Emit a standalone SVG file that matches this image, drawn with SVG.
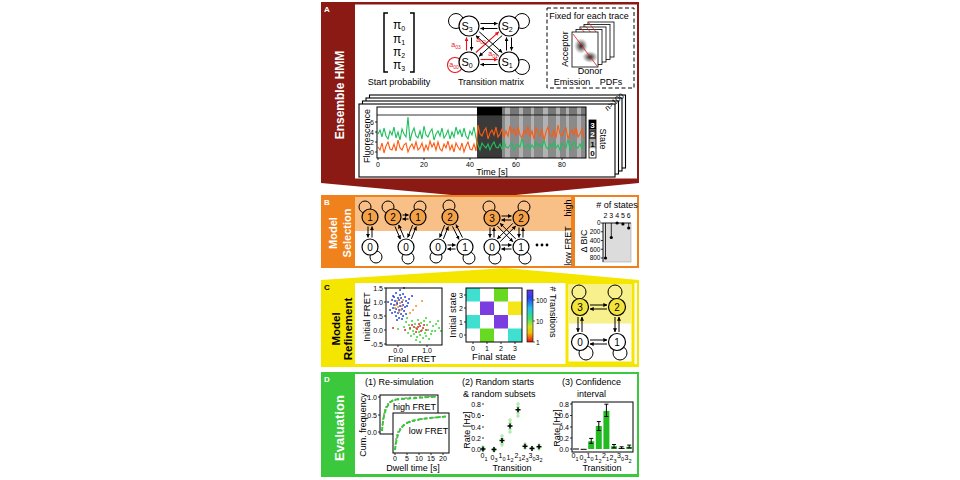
<svg xmlns="http://www.w3.org/2000/svg" width="960" height="480" viewBox="0 0 960 480">
<style>
text{font-family:"Liberation Sans",Arial,sans-serif;}
.lb{font-size:9px}
.tk{font-size:7px}
.sm{font-size:6.5px}
.ax{fill:none;stroke:#000;stroke-width:1}
.ar{fill:none;stroke:#000;stroke-width:1;marker-end:url(#ah)}
.arr{fill:none;stroke:#e8141a;stroke-width:1.1;marker-end:url(#ahr)}
.lp{fill:none;stroke:#000;stroke-width:1}
.nw{fill:#fff;stroke:#000;stroke-width:1.2}
.no{fill:#f4a24a;stroke:#000;stroke-width:1.2}
.ny{fill:#f3e43c;stroke:#000;stroke-width:1.2}
.nl{font-size:10px;text-anchor:middle}
.wb{fill:#fff;font-weight:bold}
.mid{text-anchor:middle}
.end{text-anchor:end}
</style>
<defs>
<marker id="ah" viewBox="0 0 6 6" refX="5.5" refY="3" markerWidth="4" markerHeight="4" markerUnits="userSpaceOnUse" orient="auto"><path d="M0,0 L6,3 L0,6 z" fill="#000"/></marker>
<marker id="ahr" viewBox="0 0 6 6" refX="5.5" refY="3" markerWidth="4" markerHeight="4" markerUnits="userSpaceOnUse" orient="auto"><path d="M0,0 L6,3 L0,6 z" fill="#e8141a"/></marker>
<radialGradient id="blob"><stop offset="0" stop-color="#111" stop-opacity="0.95"/><stop offset="0.5" stop-color="#444" stop-opacity="0.55"/><stop offset="1" stop-color="#888" stop-opacity="0"/></radialGradient>
<linearGradient id="cbar" x1="0" y1="0" x2="0" y2="1"><stop offset="0" stop-color="#6a3cd8"/><stop offset="0.15" stop-color="#2a3ee8"/><stop offset="0.35" stop-color="#22bff0"/><stop offset="0.55" stop-color="#3ee070"/><stop offset="0.7" stop-color="#cfe21e"/><stop offset="0.82" stop-color="#f2c200"/><stop offset="0.92" stop-color="#f06010"/><stop offset="1" stop-color="#e01010"/></linearGradient>
</defs>
<rect width="960" height="480" fill="#fff"/>

<!-- ===== Panel A ===== -->
<g id="panelA">
<rect x="321" y="2" width="318" height="179" fill="#8b1a15"/>
<polygon points="321,180 639,180 639,183 484,198 321,183" fill="#8b1a15"/>
<rect x="355" y="4.5" width="282" height="174" fill="#fff"/>
<text x="324" y="12" class="wb" font-size="8">A</text>
<text transform="translate(344,95) rotate(-90)" class="wb mid" font-size="12">Ensemble HMM</text>
</g>

<g id="startProb">
<path d="M388,13 H384 V72 H388 M410,13 H414 V72 H410" fill="none" stroke="#000" stroke-width="1.5"/>
<text x="393" y="29" font-size="12">π<tspan font-size="7" dy="2">0</tspan></text>
<text x="393" y="43" font-size="12">π<tspan font-size="7" dy="2">1</tspan></text>
<text x="393" y="56" font-size="12">π<tspan font-size="7" dy="2">2</tspan></text>
<text x="393" y="69" font-size="12">π<tspan font-size="7" dy="2">3</tspan></text>
<text x="399" y="85" class="lb mid">Start probability</text>
</g>

<g id="transMatrix">
<circle cx="456" cy="21" r="7.5" class="lp"/>
<circle cx="522" cy="21" r="7.5" class="lp"/>
<circle cx="522" cy="67" r="7.5" class="lp"/>
<circle cx="455" cy="65" r="7.5" fill="none" stroke="#e8141a" stroke-width="1.1"/>
<line x1="480.5" y1="23.5" x2="497.5" y2="23.5" class="ar"/>
<line x1="497.5" y1="28.5" x2="480.5" y2="28.5" class="ar"/>
<line x1="480.5" y1="59.5" x2="497.5" y2="59.5" class="arr"/>
<line x1="497.5" y1="64.5" x2="480.5" y2="64.5" class="ar"/>
<line x1="466.5" y1="50.5" x2="466.5" y2="37.5" class="arr"/>
<line x1="471.5" y1="37.5" x2="471.5" y2="50.5" class="ar"/>
<line x1="506.5" y1="50.5" x2="506.5" y2="37.5" class="ar"/>
<line x1="511.5" y1="37.5" x2="511.5" y2="50.5" class="ar"/>
<line x1="475.9" y1="52.5" x2="498.8" y2="31.8" class="arr"/>
<line x1="502.1" y1="35.6" x2="479.2" y2="56.2" class="ar"/>
<line x1="479.2" y1="31.8" x2="502.1" y2="52.5" class="ar"/>
<line x1="498.8" y1="56.2" x2="475.9" y2="35.6" class="ar"/>
<circle cx="469" cy="26" r="10" class="nw"/>
<circle cx="509" cy="26" r="10" class="nw"/>
<circle cx="469" cy="62" r="10" class="nw"/>
<circle cx="509" cy="62" r="10" class="nw"/>
<text x="467" y="30" font-size="11" class="mid">S<tspan font-size="7" dy="2">3</tspan></text>
<text x="507" y="30" font-size="11" class="mid">S<tspan font-size="7" dy="2">2</tspan></text>
<text x="467" y="66" font-size="11" class="mid">S<tspan font-size="7" dy="2">0</tspan></text>
<text x="507" y="66" font-size="11" class="mid">S<tspan font-size="7" dy="2">1</tspan></text>
<g fill="#e8141a" font-size="7">
<text x="456" y="47" class="mid">a<tspan font-size="5" dy="1.5">03</tspan></text>
<text x="481" y="42" class="mid">a<tspan font-size="5" dy="1.5">02</tspan></text>
<text x="493" y="56" class="mid">a<tspan font-size="5" dy="1.5">01</tspan></text>
<text x="454" y="67" class="mid">a<tspan font-size="5" dy="1.5">00</tspan></text>
</g>
<text x="491" y="85" class="lb mid">Transition matrix</text>
</g>

<g id="emission">
<rect x="547" y="8" width="87" height="80" fill="none" stroke="#000" stroke-width="1" stroke-dasharray="4 2.5"/>
<text x="589" y="19" class="lb mid">Fixed for each trace</text>
<g fill="#fff" stroke="#000" stroke-width="0.8">
<rect x="588" y="22" width="26" height="35"/>
<rect x="584" y="24.5" width="26" height="35"/>
<rect x="580" y="27" width="26" height="35"/>
<rect x="576" y="29.5" width="26" height="35"/>
</g>
<g stroke="#e8141a" stroke-width="0.7">
<line x1="589" y1="23" x2="596" y2="32"/>
<line x1="585" y1="25.5" x2="592" y2="34"/>
<line x1="581" y1="28" x2="588" y2="37"/>
</g>
<rect x="572" y="32" width="26" height="35" fill="#fff" stroke="#000" stroke-width="0.8"/>
<ellipse cx="581" cy="46" rx="7" ry="8" fill="url(#blob)"/>
<ellipse cx="590" cy="57" rx="8" ry="6" fill="url(#blob)"/>
<line x1="573" y1="34" x2="597" y2="66" stroke="#e8141a" stroke-width="0.8"/>
<text transform="translate(567.5,49) rotate(-90)" class="lb mid">Acceptor</text>
<text x="590" y="74" class="lb mid">Donor</text>
<text x="572" y="85" class="lb mid">Emission</text>
<text x="611" y="85" class="lb mid">PDFs</text>
</g>

<g id="traces">
<g fill="#fff" stroke="#000" stroke-width="1.1">
<rect x="369.5" y="95" width="256" height="73"/>
<rect x="366" y="98" width="256" height="73"/>
<rect x="362.5" y="101" width="256" height="73"/>
<rect x="359" y="104" width="256" height="73"/>
</g>
<text transform="translate(616,104) rotate(-40)" class="mid" font-size="8">n&gt;100</text>
<rect x="477" y="107" width="25" height="51" fill="#3a3a3a"/>
<rect x="477" y="107" width="25" height="8" fill="#000"/>
<rect x="502" y="107" width="84" height="51" fill="#8a8a8a"/>
<rect x="502" y="107" width="84" height="8" fill="#777"/>
<g fill="#b2b2b2">
<rect x="505" y="107" width="5" height="51"/><rect x="519" y="107" width="4" height="51"/><rect x="531" y="107" width="3" height="51"/><rect x="543" y="107" width="5" height="51"/><rect x="556" y="107" width="4" height="51"/><rect x="566" y="107" width="3" height="51"/><rect x="577" y="107" width="4" height="51"/>
</g>
<line x1="377" y1="115" x2="586" y2="115" stroke="#000" stroke-width="0.8"/>
<polyline fill="none" stroke="#1fbf5f" stroke-width="1.1" points="378,134 380,130 382,137 384,128 386,136 388,139 390,131 392,135 394,127 396,138 398,132 400,140 402,129 404,134 406,137 408,117 410,141 412,133 414,128 416,136 418,138 420,131 422,139 424,126 426,135 428,137 430,132 432,129 434,140 436,134 438,131 440,136 442,128 444,138 446,135 448,130 450,139 452,132 454,137 456,127 458,134 460,130 462,137 464,128 466,136 468,139 470,131 472,135 474,127 476,138 478,145 480,150 482,143 484,146 486,148 488,144 490,150 492,145 494,142 496,147 498,148 500,144 502,149 504,141 506,147 508,148 510,145 512,143 514,150 516,146 518,144 520,147 522,138 524,148 526,147 528,144 530,149 532,145 534,148 536,142 538,146 540,144 542,148 544,140 546,147 548,149 550,144 552,147 554,142 556,148 558,145 560,150 562,143 564,146 566,148 568,139 570,150 572,145 574,142 576,147 578,148 580,144 582,149 584,141"/>
<polyline fill="none" stroke="#ff5a10" stroke-width="1.1" points="378,147 380,150 382,143 384,153 386,146 388,142 390,149 392,150 394,144 396,151 398,140 400,148 402,150 404,145 406,143 408,152 410,147 412,144 414,149 416,142 418,150 420,148 422,143 424,151 426,145 428,150 430,141 432,147 434,143 436,150 438,142 440,149 442,151 444,144 446,148 448,141 450,150 452,145 454,152 456,143 458,147 460,150 462,143 464,152 466,146 468,142 470,149 472,150 474,144 476,151 478,125 480,134 482,136 484,131 486,128 488,139 490,133 492,130 494,135 496,127 498,137 500,134 502,129 504,138 506,131 508,136 510,126 512,133 514,129 516,136 518,127 520,135 522,138 524,130 526,134 528,126 530,137 532,131 534,139 536,128 538,133 540,136 542,129 544,140 546,132 548,127 550,135 552,137 554,130 556,138 558,125 560,134 562,136 564,131 566,128 568,139 570,133 572,130 574,135 576,127 578,137 580,134 582,129 584,138"/>
<rect x="377" y="107" width="209" height="51" class="ax"/>
<path d="M378,158 v2 M424,158 v2 M470,158 v2 M516,158 v2 M562,158 v2 M377,122 h-2 M377,132 h-2 M377,142 h-2 M377,152 h-2" stroke="#000" stroke-width="0.8"/>
<g class="tk">
<text x="378" y="167" class="mid">0</text><text x="424" y="167" class="mid">20</text><text x="470" y="167" class="mid">40</text><text x="516" y="167" class="mid">60</text><text x="562" y="167" class="mid">80</text>
<text x="374" y="124.5" class="end">6</text><text x="374" y="134.5" class="end">4</text><text x="374" y="144.5" class="end">2</text><text x="374" y="154.5" class="end">0</text>
</g>
<text x="492" y="175" class="lb mid">Time [s]</text>
<text transform="translate(369.5,136) rotate(-90)" class="lb mid">Fluorescence</text>
<rect x="589" y="120" width="7" height="9.5" fill="#000"/>
<rect x="589" y="129.5" width="7" height="9.5" fill="#444"/>
<rect x="589" y="139" width="7" height="9.5" fill="#aaa"/>
<rect x="589" y="148.5" width="7" height="9.5" fill="#fff"/>
<rect x="589" y="120" width="7" height="38" fill="none" stroke="#000" stroke-width="0.8"/>
<g font-size="8" font-weight="bold" class="mid">
<text x="592.5" y="127.5" fill="#fff">3</text><text x="592.5" y="137" fill="#fff">2</text><text x="592.5" y="146.5">1</text><text x="592.5" y="156">0</text>
</g>
<text transform="translate(600,139) rotate(90)" class="lb mid">State</text>
</g>

<!-- ===== Panel B ===== -->
<g id="panelB">
<polygon points="321,283 639,283 639,280 505,268 321,280" fill="#f5e600"/>
<rect x="321" y="195" width="318" height="73" fill="#f0821e"/>
<rect x="355" y="197" width="282" height="69" fill="#fff"/>
<rect x="355" y="197" width="216" height="34" fill="#f8bf86"/>
<rect x="571" y="197" width="4" height="69" fill="#f0821e"/>
<text x="324" y="205" class="wb" font-size="8">B</text>
<text transform="translate(337,233) rotate(-90)" class="wb mid" font-size="11">Model</text>
<text transform="translate(351,233) rotate(-90)" class="wb mid" font-size="11">Selection</text>
<text transform="translate(570.5,208) rotate(-90)" class="lb mid">high</text>
<text transform="translate(570.5,246) rotate(-90)" class="lb mid">low FRET</text>
</g>

<g id="connectorsB">
<g class="lp">
<circle cx="365" cy="207" r="6"/><circle cx="376" cy="257" r="6"/>
<circle cx="388" cy="207" r="6"/><circle cx="420" cy="207" r="6"/><circle cx="408" cy="258" r="6"/>
<circle cx="449" cy="206" r="6"/><circle cx="436" cy="257" r="6"/><circle cx="469" cy="258" r="6"/>
<circle cx="489" cy="207" r="6"/><circle cx="524" cy="207" r="6"/><circle cx="495" cy="258" r="6"/><circle cx="525" cy="258" r="6"/>
</g>
<line x1="368" y1="226.5" x2="368" y2="237.5" class="ar"/>
<line x1="372" y1="237.5" x2="372" y2="226.5" class="ar"/>
<line x1="402.5" y1="215" x2="408.5" y2="215" class="ar"/>
<line x1="408.5" y1="219" x2="402.5" y2="219" class="ar"/>
<line x1="395" y1="226.5" x2="400.4" y2="239.1" class="ar"/>
<line x1="404.1" y1="237.5" x2="398.6" y2="224.9" class="ar"/>
<line x1="412.6" y1="225.1" x2="407.7" y2="237.4" class="ar"/>
<line x1="411.4" y1="238.9" x2="416.3" y2="226.6" class="ar"/>
<line x1="444.6" y1="225.1" x2="439.7" y2="237.4" class="ar"/>
<line x1="443.4" y1="238.9" x2="448.3" y2="226.6" class="ar"/>
<line x1="452.5" y1="226.4" x2="459" y2="239.4" class="ar"/>
<line x1="462.5" y1="237.6" x2="456" y2="224.6" class="ar"/>
<line x1="447.5" y1="245" x2="455.5" y2="245" class="ar"/>
<line x1="455.5" y1="249" x2="447.5" y2="249" class="ar"/>
<line x1="501.5" y1="216" x2="511.5" y2="216" class="ar"/>
<line x1="511.5" y1="220" x2="501.5" y2="220" class="ar"/>
<line x1="501.5" y1="245" x2="511.5" y2="245" class="ar"/>
<line x1="511.5" y1="249" x2="501.5" y2="249" class="ar"/>
<line x1="490" y1="227.5" x2="490" y2="237.5" class="ar"/>
<line x1="494" y1="237.5" x2="494" y2="227.5" class="ar"/>
<line x1="519" y1="227.5" x2="519" y2="237.5" class="ar"/>
<line x1="523" y1="237.5" x2="523" y2="227.5" class="ar"/>
<line x1="497.3" y1="226.1" x2="512.9" y2="241.7" class="ar"/>
<line x1="515.7" y1="238.9" x2="500.1" y2="223.3" class="ar"/>
<line x1="512.9" y1="223.3" x2="497.3" y2="238.9" class="ar"/>
<line x1="500.1" y1="241.7" x2="515.7" y2="226.1" class="ar"/>
</g>

<g id="net1"><circle cx="370" cy="217" r="8" class="no"/><text x="370" y="220.5" class="nl">1</text><circle cx="370" cy="247" r="8" class="nw"/><text x="370" y="250.5" class="nl">0</text></g>
<g id="net2"><circle cx="393" cy="217" r="8" class="no"/><text x="393" y="220.5" class="nl">2</text><circle cx="418" cy="217" r="8" class="no"/><text x="418" y="220.5" class="nl">1</text><circle cx="406" cy="247" r="8" class="nw"/><text x="406" y="250.5" class="nl">0</text></g>
<g id="net3"><circle cx="450" cy="217" r="8" class="no"/><text x="450" y="220.5" class="nl">2</text><circle cx="438" cy="247" r="8" class="nw"/><text x="438" y="250.5" class="nl">0</text><circle cx="465" cy="247" r="8" class="nw"/><text x="465" y="250.5" class="nl">1</text></g>
<g id="net4"><circle cx="492" cy="218" r="8" class="no"/><text x="492" y="221.5" class="nl">3</text><circle cx="521" cy="218" r="8" class="no"/><text x="521" y="221.5" class="nl">2</text><circle cx="492" cy="247" r="8" class="nw"/><text x="492" y="250.5" class="nl">0</text><circle cx="521" cy="247" r="8" class="nw"/><text x="521" y="250.5" class="nl">1</text></g>
<g id="dots"><circle cx="537" cy="245" r="1.4"/><circle cx="542" cy="245" r="1.4"/><circle cx="547" cy="245" r="1.4"/></g>

<g id="bicPlot">
<text x="617" y="208" class="lb mid"># of states</text>
<g class="tk mid"><text x="605.5" y="218">2</text><text x="611.3" y="218">3</text><text x="617.1" y="218">4</text><text x="622.9" y="218">5</text><text x="628.7" y="218">6</text></g>
<rect x="603" y="223" width="28" height="39" fill="#dcdcdc" stroke="#999" stroke-width="0.5"/>
<path d="M603,223 V262 M603,223 h-2 M603,231.75 h-2 M603,240.5 h-2 M603,249.25 h-2 M603,258 h-2" stroke="#000" stroke-width="0.8" fill="none"/>
<g class="sm end"><text x="600.5" y="225">0</text><text x="600.5" y="234">200</text><text x="600.5" y="242.5">400</text><text x="600.5" y="251.5">600</text><text x="600.5" y="260">800</text></g>
<path d="M603,223 H631 M605.5,223 V258 M611.3,223 V237.5 M622.9,223 V224 M628.7,223 V228" stroke="#000" stroke-width="0.8" fill="none"/>
<g fill="#000"><circle cx="605.5" cy="258" r="1.6"/><circle cx="611.3" cy="237.5" r="1.6"/><circle cx="617.1" cy="223" r="1.6"/><circle cx="622.9" cy="224" r="1.6"/><circle cx="628.7" cy="228" r="1.6"/></g>
<text transform="translate(587,241) rotate(-90)" class="lb mid">Δ BIC</text>
</g>

<!-- ===== Panel C ===== -->
<g id="panelC">
<rect x="321" y="280" width="318" height="87" fill="#f5e600"/>
<rect x="355" y="283" width="282" height="81" fill="#fff"/>
<text x="324" y="290" font-size="8" font-weight="bold">C</text>
<text transform="translate(340,329) rotate(-90)" class="mid" font-size="11.5" font-weight="bold">Model</text>
<text transform="translate(351.5,329) rotate(-90)" class="mid" font-size="11.5" font-weight="bold">Refinement</text>
</g>

<g id="scatter">
<path fill="none" stroke-linecap="round" stroke-width="1.8" stroke="#2040e0" d="M393 296h.1M396 293h.1M400 295h.1M403 294h.1M405 297h.1M398 298h.1M392 300h.1M395 301h.1M399 300h.1M402 302h.1M406 301h.1M408 303h.1M391 304h.1M394 305h.1M397 304h.1M400 306h.1M403 305h.1M405 307h.1M393 308h.1M396 309h.1M399 310h.1M402 309h.1M404 311h.1M395 312h.1M398 313h.1M401 314h.1M403 316h.1M396 316h.1M399 318h.1M402 319h.1M397 303h.1M401 298h.1M394 297h.1M407 306h.1M390 310h.1M409 299h.1M400 290h.1M412 296h.1M404 288h.1M392 313h.1M397 320h.1M388 302h.1M406 314h.1"/>
<path fill="none" stroke-linecap="round" stroke-width="1.8" stroke="#f08c1e" d="M397 301h.1M400 303h.1M402 306h.1M398 307h.1M401 310h.1M396 305h.1M403 300h.1M399 312h.1M413 310h.1M416 306h.1M410 313h.1M422 301h.1M395 308h.1"/>
<path fill="none" stroke-linecap="round" stroke-width="1.8" stroke="#2ed62e" d="M406 322h.1M409 325h.1M412 321h.1M415 324h.1M418 320h.1M421 323h.1M424 321h.1M427 325h.1M430 322h.1M433 326h.1M436 324h.1M439 328h.1M410 329h.1M413 331h.1M416 328h.1M419 332h.1M422 330h.1M425 333h.1M428 330h.1M431 334h.1M408 333h.1M411 336h.1M414 334h.1M417 337h.1M420 335h.1M423 338h.1M426 336h.1M429 339h.1M432 331h.1M435 331h.1M404 327h.1M438 321h.1M407 318h.1M420 342h.1M426 318h.1M398 329h.1M441 331h.1M416 340h.1"/>
<path fill="none" stroke-linecap="round" stroke-width="1.8" stroke="#e82020" d="M410 328h.1M414 327h.1M417 329h.1M420 326h.1M423 328h.1M419 324h.1M416 332h.1M421 331h.1M424 325h.1M405 330h.1M393 328h.1M426 330h.1M418 327h.1M412 325h.1"/>
<rect x="386" y="288" width="56" height="57" class="ax"/>
<path d="M386,288 h-2 M386,302 h-2 M386,316 h-2 M386,330 h-2 M386,344 h-2 M398,345 v2 M427,345 v2" stroke="#000" stroke-width="0.8"/>
<g class="tk end"><text x="383" y="290.5">1.5</text><text x="383" y="304.5">1.0</text><text x="383" y="318.5">0.5</text><text x="383" y="332.5">0.0</text><text x="383" y="346.5">-0.5</text></g>
<g class="tk mid"><text x="398" y="353">0.0</text><text x="427" y="353">1.0</text></g>
<text x="412" y="362" class="mid" font-size="9.5">Final FRET</text>
<text transform="translate(370,317) rotate(-90)" class="mid" font-size="9.5">Initial FRET</text>
</g>

<g id="heatmap">
<rect x="466" y="288" width="56" height="54" fill="#fff"/>
<rect x="466" y="288" width="14" height="13.5" fill="#3fe0d0"/>
<rect x="494" y="288" width="14" height="13.5" fill="#66d920"/>
<rect x="480" y="301.5" width="14" height="13.5" fill="#7a3de0"/>
<rect x="508" y="301.5" width="14" height="13.5" fill="#f5e61a"/>
<rect x="466" y="315" width="14" height="13.5" fill="#3fe0d0"/>
<rect x="494" y="315" width="14" height="13.5" fill="#7a3de0"/>
<rect x="480" y="328.5" width="14" height="13.5" fill="#66d920"/>
<rect x="508" y="328.5" width="14" height="13.5" fill="#3fe0d0"/>
<rect x="466" y="288" width="56" height="54" class="ax"/>
<path d="M466,295 h-2 M466,308 h-2 M466,322 h-2 M466,335 h-2 M473,342 v2 M487,342 v2 M501,342 v2 M515,342 v2" stroke="#000" stroke-width="0.8"/>
<g class="tk end"><text x="463" y="297.5">3</text><text x="463" y="310.5">2</text><text x="463" y="324.5">1</text><text x="463" y="337.5">0</text></g>
<g class="tk mid"><text x="473" y="351">0</text><text x="487" y="351">1</text><text x="501" y="351">2</text><text x="515" y="351">3</text></g>
<text x="494" y="360" class="mid" font-size="9.5">Final state</text>
<text transform="translate(456,315) rotate(-90)" class="mid" font-size="9.5">Initial state</text>
<rect x="527" y="290" width="6" height="52" fill="url(#cbar)" stroke="#000" stroke-width="0.6"/>
<path d="M533,300 h2 M533,321 h2 M533,342 h2" stroke="#000" stroke-width="0.6"/>
<g class="sm"><text x="536" y="302.5">100</text><text x="536" y="323.5">10</text><text x="536" y="344.5">1</text></g>
<text transform="translate(550,312) rotate(90)" class="mid" font-size="9">#&#160;Transitions</text>
</g>

<g id="refinedModel">
<rect x="567" y="283" width="66" height="80" fill="#fff" stroke="#f5e600" stroke-width="3"/>
<rect x="568.5" y="284.5" width="63" height="39" fill="#f8f08c"/>
<g class="lp">
<circle cx="579" cy="292" r="7"/><circle cx="615" cy="292" r="7"/><circle cx="586" cy="353" r="7"/><circle cx="620" cy="353" r="7"/>
</g>
<line x1="590" y1="305" x2="607" y2="305" class="ar"/>
<line x1="607" y1="309" x2="590" y2="309" class="ar"/>
<line x1="590" y1="340" x2="607" y2="340" class="ar"/>
<line x1="607" y1="344" x2="590" y2="344" class="ar"/>
<line x1="578" y1="317" x2="578" y2="332" class="ar"/>
<line x1="582" y1="332" x2="582" y2="317" class="ar"/>
<line x1="615" y1="317" x2="615" y2="332" class="ar"/>
<line x1="619" y1="332" x2="619" y2="317" class="ar"/>
<circle cx="580" cy="307" r="8.5" class="ny"/><text x="580" y="310.5" class="nl">3</text>
<circle cx="617" cy="307" r="8.5" class="ny"/><text x="617" y="310.5" class="nl">2</text>
<circle cx="580" cy="342" r="8.5" class="nw"/><text x="580" y="345.5" class="nl">0</text>
<circle cx="617" cy="342" r="8.5" class="nw"/><text x="617" y="345.5" class="nl">1</text>
</g>

<!-- ===== Panel D ===== -->
<g id="panelD">
<rect x="321" y="372" width="318" height="105" fill="#3cc83c"/>
<rect x="355" y="374" width="282" height="100" fill="#fff"/>
<text x="324" y="382" class="wb" font-size="8">D</text>
<text transform="translate(344,428) rotate(-90)" class="wb mid" font-size="13">Evaluation</text>
<text x="365" y="385" class="lb">(1) Re-simulation</text>
<text x="462" y="385" class="lb">(2) Random starts</text>
<text x="463" y="397" class="lb">&amp; random subsets</text>
<text x="562" y="385" class="lb">(3) Confidence</text>
<text x="577" y="397" class="lb">interval</text>
</g>

<g id="resim">
<rect x="380" y="395" width="58" height="39" fill="#fff" stroke="#000" stroke-width="1"/>
<path d="M380,397 h-2 M380,415 h-2 M380,432 h-2" stroke="#000" stroke-width="0.8"/>
<g class="tk end"><text x="377" y="399.5">1.0</text><text x="377" y="417.5">0.5</text><text x="377" y="434.5">0.0</text></g>
<path fill="none" stroke="#9a9a9a" stroke-width="2" stroke-linecap="round" d="M382 430h.1M382.5 425h.1M383 419h.1M384 414h.1M385 410h.1M386 407h.1M388 404h.1M390 402h.1M392 401h.1M395 400h.1M398 399h.1M402 398.5h.1M406 398h.1M410 397.5h.1M415 397.5h.1M420 397h.1M425 397h.1M430 396.5h.1M435 396.5h.1"/>
<path d="M382,431 C383.5,412 387,402 395,399.5 L437,396.5" fill="none" stroke="#2ecc2e" stroke-width="2" stroke-dasharray="4 2"/>
<text x="414.5" y="410" class="lb mid">high FRET</text>
<rect x="393" y="413" width="56" height="40" fill="#fff" stroke="#000" stroke-width="1"/>
<path fill="none" stroke="#9a9a9a" stroke-width="2" stroke-linecap="round" d="M395 449h.1M395.5 444h.1M396 439h.1M397 435h.1M398 432h.1M400 429h.1M402 427h.1M404 425h.1M407 423h.1M410 422h.1M414 421h.1M418 420h.1M422 419h.1M426 418.5h.1M430 418h.1M435 417.5h.1M440 417h.1M445 416.5h.1"/>
<path d="M395,450 C397,432 401,425 410,421.5 C420,418.5 435,417.5 447,416.5" fill="none" stroke="#2ecc2e" stroke-width="2" stroke-dasharray="4 2"/>
<text x="428.5" y="434" class="lb mid">low FRET</text>
<path d="M395,453 v2 M407,453 v2 M419,453 v2 M431,453 v2 M443,453 v2" stroke="#000" stroke-width="0.8"/>
<g class="tk mid"><text x="395" y="461">0</text><text x="407" y="461">5</text><text x="419" y="461">10</text><text x="431" y="461">15</text><text x="443" y="461">20</text></g>
<text x="413" y="471" class="lb mid">Dwell time [s]</text>
<text transform="translate(366,425) rotate(-90)" class="lb mid">Cum. frequency</text>
</g>

<g id="randomStarts">
<path d="M482,404 h2 M482,415.5 h2 M482,427 h2 M482,438 h2 M482,449 h2" stroke="#000" stroke-width="0.8"/>
<g class="tk end"><text x="481" y="406.5">0.8</text><text x="481" y="418">0.6</text><text x="481" y="429.5">0.4</text><text x="481" y="440.5">0.2</text><text x="481" y="451.5">0.0</text></g>
<text transform="translate(470,430) rotate(-90)" class="lb mid">Rate [Hz]</text>
<path fill="none" stroke="#8fe88f" stroke-width="0.9" d="M481,447h4M483,445v4 M481,450.5h4M483,448.5v4 M492,448.5h4M494,446.5v4 M492,451h4M494,449v4 M500,436h4M502,434v4 M500,438.5h4M502,436.5v4 M500,443h4M502,441v4 M500,445h4M502,443v4 M508,420h4M510,418v4 M508,423h4M510,421v4 M508,429h4M510,427v4 M508,432h4M510,430v4 M516,404h4M518,402v4 M516,407h4M518,405v4 M516,413h4M518,411v4 M516,416h4M518,414v4 M523,444h4M525,442v4 M523,448h4M525,446v4 M530,447.5h4M532,445.5v4 M537,445h4M539,443v4 M537,449h4M539,447v4"/>
<path fill="none" stroke="#000" stroke-width="1.5" d="M480.5,449h5M483,446.5v5 M491.5,449.5h5M494,447v5 M499.5,440.6h5M502,438.1v5 M507.5,426h5M510,423.5v5 M515.5,409.8h5M518,407.3v5 M522.5,446.2h5M525,443.7v5 M529.5,448.4h5M532,445.9v5 M536.5,446.8h5M539,444.3v5"/>
<g class="tk mid">
<text x="484" y="458">0<tspan font-size="5.5" dy="2.5">1</tspan></text>
<text x="494" y="459.5">0<tspan font-size="5.5" dy="2.5">3</tspan></text>
<text x="502" y="458">1<tspan font-size="5.5" dy="2.5">0</tspan></text>
<text x="510" y="459.5">1<tspan font-size="5.5" dy="2.5">2</tspan></text>
<text x="518" y="458">2<tspan font-size="5.5" dy="2.5">1</tspan></text>
<text x="525" y="459.5">2<tspan font-size="5.5" dy="2.5">3</tspan></text>
<text x="532" y="458">3<tspan font-size="5.5" dy="2.5">0</tspan></text>
<text x="539" y="459.5">3<tspan font-size="5.5" dy="2.5">2</tspan></text>
</g>
<text x="512" y="471" class="lb mid">Transition</text>
</g>

<g id="confidence">
<rect x="572" y="402" width="61" height="50" fill="#fff" stroke="#000" stroke-width="1"/>
<g fill="#22bb22">
<rect x="588.2" y="441.2" width="6" height="7.8"/>
<rect x="595.8" y="426" width="6" height="23"/>
<rect x="603.4" y="410.9" width="6" height="38.1"/>
<rect x="611" y="446.2" width="6" height="2.8"/>
<rect x="626.2" y="446.8" width="6" height="2.2"/>
</g>
<path fill="none" stroke="#000" stroke-width="1" d="M573,449h6 M580.6,449.3h6 M618.6,448.4h6 M591.2,443.4V438.4 M589.2,438.4h4 M589.2,443.4h4 M598.8,430.5V421.6 M596.8,421.6h4 M596.8,430.5h4 M606.4,416.5V404.2 M604.4,404.2h4 M604.4,416.5h4 M614,447.9V444.5 M612,444.5h4 M612,447.9h4 M621.6,449V446.8 M619.6,446.8h4 M629.2,447.9V445.1 M627.2,445.1h4 M627.2,447.9h4"/>
<path d="M572,404 h-2 M572,415.5 h-2 M572,427 h-2 M572,438 h-2 M572,449 h-2" stroke="#000" stroke-width="0.8"/>
<g class="tk end"><text x="569" y="406.5">0.8</text><text x="569" y="418">0.6</text><text x="569" y="429.5">0.4</text><text x="569" y="440.5">0.2</text><text x="569" y="451.5">0.0</text></g>
<text transform="translate(560,428) rotate(-90)" class="lb mid">Rate [Hz]</text>
<g class="tk mid">
<text x="575" y="458">0<tspan font-size="5.5" dy="2.5">1</tspan></text>
<text x="583" y="460">0<tspan font-size="5.5" dy="2.5">3</tspan></text>
<text x="590" y="458">1<tspan font-size="5.5" dy="2.5">0</tspan></text>
<text x="598" y="460">1<tspan font-size="5.5" dy="2.5">2</tspan></text>
<text x="605.5" y="458">2<tspan font-size="5.5" dy="2.5">1</tspan></text>
<text x="613" y="460">2<tspan font-size="5.5" dy="2.5">3</tspan></text>
<text x="620.5" y="458">3<tspan font-size="5.5" dy="2.5">0</tspan></text>
<text x="628" y="460">3<tspan font-size="5.5" dy="2.5">2</tspan></text>
</g>
<text x="602" y="471" class="lb mid">Transition</text>
</g>
</svg>
